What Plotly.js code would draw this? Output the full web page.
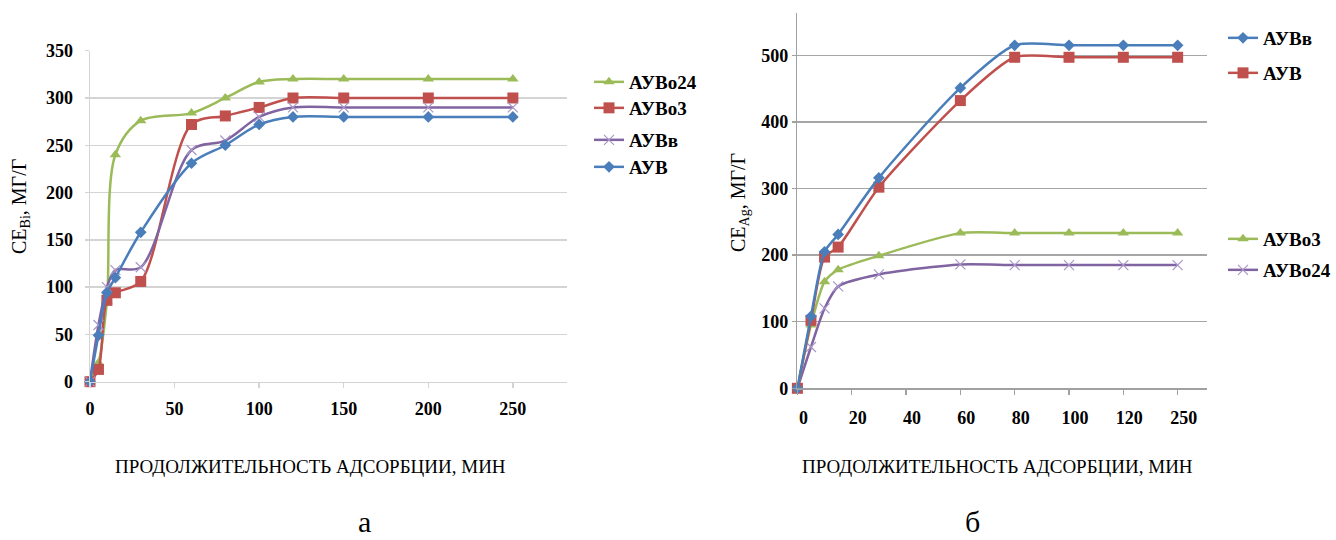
<!DOCTYPE html>
<html>
<head>
<meta charset="utf-8">
<script src="https://cdn.plot.ly/plotly-3.0.1.min.js"></script>
<style>html,body{margin:0;padding:0;background:#fff;}#chart{width:1336px;height:540px;}</style>
</head>
<body>
<div id="chart"></div>
<script>
// ---- Data: chart (а) Bi sorption ----
const timesA = [0, 5, 10, 15, 30, 60, 80, 100, 120, 150, 200, 250];
const auvo24A = [0, 20, 85, 240, 276, 284, 300, 317, 320, 320, 320, 320];
const auvo3A  = [0, 13, 86, 94, 106, 272, 281, 290, 300, 300, 300, 300];
const auvvA   = [0, 60, 100, 118, 121, 245, 255, 280, 290, 290, 290, 290];
const auvA    = [0, 49, 94, 110, 158, 231, 250, 272, 280, 280, 280, 280];
const ticksA  = [0, 50, 100, 150, 200, 250];

// ---- Data: chart (б) Ag sorption ----
const timesB = [0, 5, 10, 15, 30, 60, 80, 100, 120, 250];
const auvvB   = [0, 108, 205, 231, 316, 451, 515, 515, 515, 515];
const auvB    = [0, 102, 197, 212, 302, 432, 497, 497, 497, 497];
const auvo3B  = [0, 95, 160, 178, 199, 233, 233, 233, 233, 233];
const auvo24B = [0, 62, 120, 153, 171, 186, 185, 185, 185, 185];
const tickLabelsB = ['0', '20', '40', '60', '80', '100', '120', '250'];

const namesA = ['АУВо24', 'АУВо3', 'АУВв', 'АУВ'];
const namesB = ['АУВв', 'АУВ', 'АУВо3', 'АУВо24'];

// axis of chart (б) has a break: the 250 min point sits one tick after 120
const tickPosB = tickLabelsB.map((t, i) => i * 20);
function posB(t) { return t <= 120 ? t : tickPosB[tickPosB.length - 1]; }
const xB = timesB.map(posB);

const W = 1336, H = 540;
const px = v => v / W;
const py = v => 1 - v / H;

const SERIF = '"Liberation Serif", "Times New Roman", Times, serif';
const C = {blue: '#4A7EBB', red: '#C0504D', green: '#9BBB59', purple: '#8064A2', purpleM: '#a996c9'};

function tr(x, y, name, color, marker, xa, ya, leg, sm) {
  return {
    x: x, y: y, name: name, type: 'scatter', mode: 'lines+markers',
    xaxis: xa, yaxis: ya, legend: leg,
    line: {color: color, width: 2.5, shape: 'spline', smoothing: sm},
    marker: marker, cliponaxis: false
  };
}
const mk = {
  diamond: {symbol: 'diamond', size: 9, color: C.blue},
  square: {symbol: 'square', size: 11, color: C.red},
  triangle: {symbol: 'triangle-up', size: 10, color: C.green},
  x: {symbol: 'x-thin-open', size: 10, color: C.purpleM, line: {color: C.purpleM, width: 1.2}}
};

const data = [
  tr(timesA, auvo24A, namesA[0], C.green, mk.triangle, 'x', 'y', 'legend', 0.9),
  tr(timesA, auvo3A, namesA[1], C.red, mk.square, 'x', 'y', 'legend2', 0.9),
  tr(timesA, auvvA, namesA[2], C.purple, mk.x, 'x', 'y', 'legend3', 0.9),
  tr(timesA, auvA, namesA[3], C.blue, mk.diamond, 'x', 'y', 'legend4', 0.9),
  tr(xB, auvo24B, namesB[3], C.purple, mk.x, 'x2', 'y2', 'legend8', 0.7),
  tr(xB, auvo3B, namesB[2], C.green, mk.triangle, 'x2', 'y2', 'legend7', 0.7),
  tr(xB, auvB, namesB[1], C.red, mk.square, 'x2', 'y2', 'legend6', 0.7),
  tr(xB, auvvB, namesB[0], C.blue, mk.diamond, 'x2', 'y2', 'legend5', 0.7)
];

const tickFont = {family: SERIF, size: 18, color: '#000', weight: 'bold'};
const legFont = {family: SERIF, size: 19, color: '#000', weight: 'bold'};
function leg(xp, yp) {
  return {x: px(xp), y: py(yp), xanchor: 'left', yanchor: 'middle', font: legFont,
          bgcolor: 'rgba(0,0,0,0)', borderwidth: 0, itemwidth: 30, tracegroupgap: 0};
}

const layout = {
  width: W, height: H,
  margin: {l: 0, r: 0, t: 0, b: 0},
  paper_bgcolor: '#fff', plot_bgcolor: 'rgba(0,0,0,0)',
  showlegend: true,
  xaxis: {
    domain: [px(90), px(567)], range: [0, 282], anchor: 'y',
    tickmode: 'array', tickvals: ticksA, showgrid: false, zeroline: false,
    showline: true, linecolor: '#d4d4d4', linewidth: 1.5,
    ticks: 'outside', ticklen: 5, tickcolor: '#d4d4d4', tickwidth: 1.5,
    tickfont: tickFont, ticklabelstandoff: 5
  },
  yaxis: {
    domain: [py(381.7), py(50.7)], range: [0, 350], anchor: 'x',
    dtick: 50, tick0: 0, showgrid: true, gridcolor: '#d4d4d4', gridwidth: 1.5, zeroline: false,
    showline: true, linecolor: '#d4d4d4', linewidth: 1.5,
    ticks: 'outside', ticklen: 4, tickcolor: '#d4d4d4', tickwidth: 1.5,
    tickfont: tickFont, ticklabelstandoff: 8
  },
  xaxis2: {
    domain: [px(797.4), px(1206.7)], range: [0, 150.7], anchor: 'y2',
    tickmode: 'array', tickvals: tickPosB, ticktext: tickLabelsB,
    showgrid: false, zeroline: false,
    showline: true, linecolor: '#a0a0a0', linewidth: 1.5,
    ticks: 'outside', ticklen: 5, tickcolor: '#a0a0a0', tickwidth: 1.5,
    tickfont: tickFont, ticklabelstandoff: 8, ticklabelshift: 6
  },
  yaxis2: {
    domain: [py(388.3), py(13)], range: [0, 563.5], anchor: 'x2',
    dtick: 100, tick0: 0, showgrid: true, gridcolor: '#a6a6a6', gridwidth: 1.5, zeroline: false,
    showline: true, linecolor: '#a0a0a0', linewidth: 1.5,
    ticks: 'outside', ticklen: 4, tickcolor: '#a0a0a0', tickwidth: 1.5,
    tickfont: tickFont, ticklabelstandoff: 0
  },
  legend: leg(589, 82),
  legend2: leg(589, 108),
  legend3: leg(589, 140),
  legend4: leg(589, 167),
  legend5: leg(1223, 38),
  legend6: leg(1223, 73),
  legend7: leg(1223, 239),
  legend8: leg(1223, 270),
  annotations: [
    {xref: 'paper', yref: 'paper', x: px(310), y: py(466), text: 'ПРОДОЛЖИТЕЛЬНОСТЬ АДСОРБЦИИ, МИН',
     showarrow: false, xanchor: 'center', yanchor: 'middle', font: {family: SERIF, size: 19, color: '#000'}},
    {xref: 'paper', yref: 'paper', x: px(997), y: py(466), text: 'ПРОДОЛЖИТЕЛЬНОСТЬ АДСОРБЦИИ, МИН',
     showarrow: false, xanchor: 'center', yanchor: 'middle', font: {family: SERIF, size: 19, color: '#000'}},
    {xref: 'paper', yref: 'paper', x: px(21), y: py(207), text: 'СЕ<sub>Bi</sub>, МГ/Г', textangle: -90,
     showarrow: false, xanchor: 'center', yanchor: 'middle', font: {family: SERIF, size: 20, color: '#000'}},
    {xref: 'paper', yref: 'paper', x: px(739), y: py(203), text: 'СЕ<sub>Ag</sub>, МГ/Г', textangle: -90,
     showarrow: false, xanchor: 'center', yanchor: 'middle', font: {family: SERIF, size: 20, color: '#000'}},
    {xref: 'paper', yref: 'paper', x: px(365), y: 0, text: 'а',
     showarrow: false, xanchor: 'center', yanchor: 'bottom', font: {family: SERIF, size: 30, color: '#000'}},
    {xref: 'paper', yref: 'paper', x: px(972), y: 0, text: 'б',
     showarrow: false, xanchor: 'center', yanchor: 'bottom', font: {family: SERIF, size: 30, color: '#000'}}
  ]
};

Plotly.newPlot('chart', data, layout, {displayModeBar: false, staticPlot: true});
</script>
</body>
</html>
